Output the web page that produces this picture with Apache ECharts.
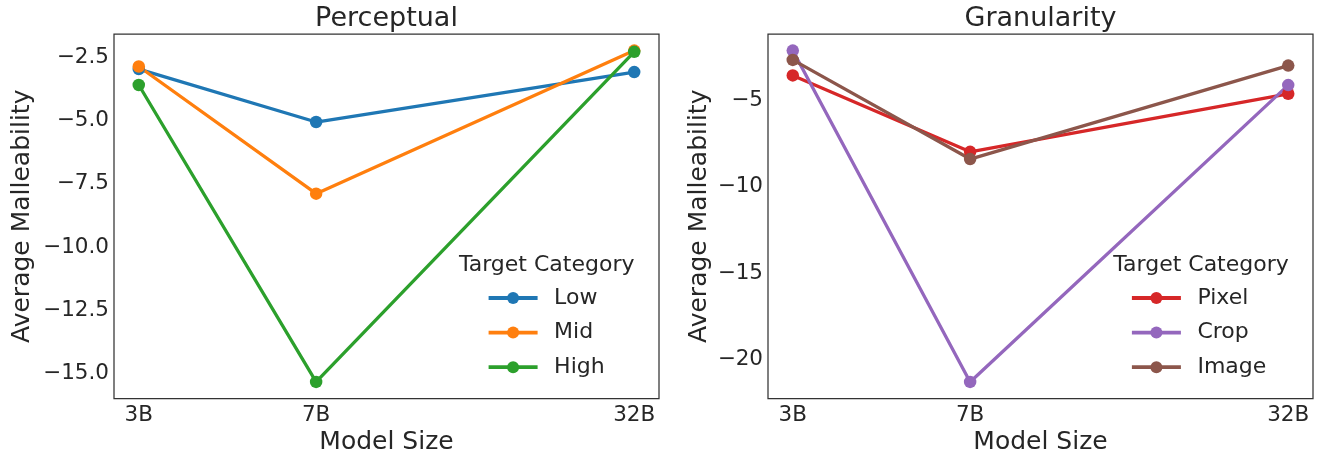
<!DOCTYPE html>
<html><head><meta charset="utf-8">
<script src="https://cdn.jsdelivr.net/npm/echarts@6/dist/echarts.min.js"></script>
<style>html,body{margin:0;padding:0;background:#fff}#c{width:1320px;height:456px}</style>
</head><body><div id="c"></div>
<script>
const sizes = [3, 7, 32];
const sizeLabels = ['3B', '7B', '32B'];
const perceptualNames = ['Low', 'Mid', 'High'];
const granularityNames = ['Pixel', 'Crop', 'Image'];
const low = [-2.97, -5.06, -3.09];
const mid = [-2.87, -7.89, -2.24];
const high = [-3.60, -15.32, -2.29];
const pixel = [-3.55, -7.97, -4.61];
const crop = [-2.11, -21.29, -4.11];
const image = [-2.65, -8.39, -2.98];
const leftYTicks = [-15, -12.5, -10, -7.5, -5, -2.5];
const rightYTicks = [-20, -15, -10, -5];
const chartTitles = ['Perceptual', 'Granularity'];

const FONT = 'DejaVu Sans';
const TXT = '#262626';
const COLORS = ['#1f77b4', '#ff7f0e', '#2ca02c', '#d62728', '#9467bd', '#8c564b'];
const G = [
  {left: 114, top: 34, width: 545, height: 364.5},
  {left: 768, top: 34, width: 545, height: 364.5}
];

function pts(vals) { return sizes.map((s, i) => [s, vals[i]]); }
function padMin(v) { return v.min - 0.05 * (v.max - v.min); }
function padMax(v) { return v.max + 0.05 * (v.max - v.min); }
function logPadMin(v) { const a = Math.log10(v.min), b = Math.log10(v.max); return Math.pow(10, a - 0.05 * (b - a)); }
function logPadMax(v) { const a = Math.log10(v.min), b = Math.log10(v.max); return Math.pow(10, b + 0.05 * (b - a)); }
function fmt(d) { return v => (v < 0 ? '\u2212' : '') + Math.abs(v).toFixed(d); }

function mk(name, vals, color, idx) {
  return {
    type: 'line', name, data: pts(vals), xAxisIndex: idx, yAxisIndex: idx,
    symbol: 'circle', symbolSize: 12.5, showSymbol: true,
    lineStyle: {width: 3.3, color}, itemStyle: {color},
    emphasis: {disabled: true}, animation: false
  };
}

const chart = echarts.init(document.getElementById('c'), null, {renderer: 'canvas'});

const yTicks = [leftYTicks, rightYTicks];
const option = {
  backgroundColor: '#fff',
  animation: false,
  textStyle: {fontFamily: FONT},
  title: [
    {text: chartTitles[0], left: G[0].left + G[0].width / 2, top: 5.8},
    {text: chartTitles[1], left: G[1].left + G[1].width / 2, top: 5.8},
    {text: 'Target Category', left: 546.7, top: 254, fs: 22},
    {text: 'Target Category', left: 1201, top: 254, fs: 22}
  ].map(t => ({
    text: t.text, left: t.left, top: t.top, textAlign: 'center', textVerticalAlign: 'top', padding: 0,
    textStyle: {fontFamily: FONT, fontSize: t.fs || 27, fontWeight: 'normal', color: TXT}
  })),
  grid: G.map(g => Object.assign({show: true, borderWidth: 1.25, borderColor: '#333', backgroundColor: 'transparent', containLabel: false, outerBoundsMode: 'none'}, g)),
  legend: [0, 1].map(i => ({
    show: true, orient: 'vertical', left: i ? 1130 : 486.7, top: 287, padding: 0,
    itemWidth: 49, itemHeight: 15, itemGap: 12.6, selectedMode: false,
    data: i ? granularityNames : perceptualNames,
    lineStyle: {width: 3.8},
    textStyle: {fontFamily: FONT, fontSize: 22, lineHeight: 22, color: TXT, padding: [0, 0, 0, 11.5]}
  })),
  xAxis: [0, 1].map(i => ({
    type: 'log', gridIndex: i, logBase: 10,
    min: logPadMin, max: logPadMax,
    axisLine: {show: false}, axisTick: {show: false}, splitLine: {show: false}, axisLabel: {show: false},
    name: 'Model Size', nameLocation: 'middle', nameGap: 31.5, nameMoveOverlap: false,
    nameTextStyle: {fontFamily: FONT, fontSize: 25, color: TXT}
  })),
  yAxis: [0, 1].map(i => ({
    type: 'value', gridIndex: i, scale: true,
    min: padMin, max: padMax,
    axisLine: {show: false}, axisTick: {show: false}, splitLine: {show: false},
    axisLabel: {customValues: yTicks[i], formatter: fmt(i ? 0 : 1), margin: 5, fontFamily: FONT, fontSize: 21.5, color: TXT},
    name: 'Average Malleability', nameLocation: 'middle', nameGap: i ? 56 : 79, nameMoveOverlap: false,
    nameTextStyle: {fontFamily: FONT, fontSize: 25, color: TXT}
  })),
  series: [
    mk(perceptualNames[0], low, COLORS[0], 0),
    mk(perceptualNames[1], mid, COLORS[1], 0),
    mk(perceptualNames[2], high, COLORS[2], 0),
    mk(granularityNames[0], pixel, COLORS[3], 1),
    mk(granularityNames[1], crop, COLORS[4], 1),
    mk(granularityNames[2], image, COLORS[5], 1)
  ]
};
chart.setOption(option);

const labels = [];
[0, 1].forEach(g => sizes.forEach((s, i) => {
  const x = chart.convertToPixel({xAxisIndex: g}, s);
  labels.push({
    type: 'text', x: x, y: G[g].top + G[g].height + 5.5, silent: true,
    style: {text: sizeLabels[i], align: 'center', verticalAlign: 'top', fontFamily: FONT, fontSize: 21.5, fill: TXT}
  });
}));
chart.setOption({graphic: labels});
</script>
</body></html>
